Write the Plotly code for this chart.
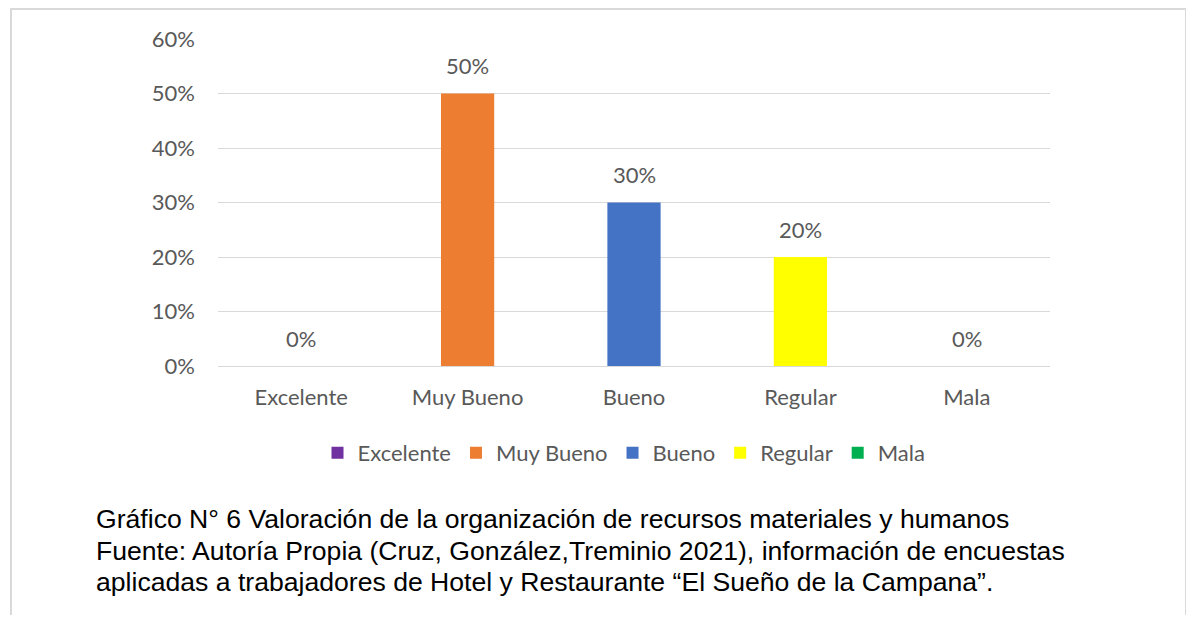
import plotly.graph_objects as go

# survey results (percent of respondents)
categories = ['Excelente', 'Muy Bueno', 'Bueno', 'Regular', 'Mala']
values = [0, 50, 30, 20, 0]
colors = ['#7030A0', '#ED7D31', '#4472C4', '#FFFF00', '#00B050']
y_ticks = [0, 10, 20, 30, 40, 50, 60]
y_tick_text = [f'{v}%' for v in y_ticks]

caption_lines = [
    'Gráfico N° 6 Valoración de la organización de recursos materiales y humanos',
    'Fuente: Autoría Propia (Cruz, González,Treminio 2021), información de encuestas',
    'aplicadas a trabajadores de Hotel y Restaurante “El Sueño de la Campana”.',
]

# page body has an 8px margin, so the figure is a bit smaller and shifted
OFF = 8
W, H = 1194 - OFF, 623 - 2 * OFF
L, R, T = 218 - OFF, 144, 39 - OFF
B = H - (366 - OFF)
pw, ph = W - L - R, H - T - B


def px_x(x):
    return (x - OFF - L) / pw


def px_y(y):
    return (H - B - (y - OFF)) / ph


font_main = 'Lato, Calibri, sans-serif'
grey = '#595959'
fsize = 22

fig = go.Figure()

# one trace per category so each gets its own legend entry
for cat, val, col in zip(categories, values, colors):
    fig.add_trace(go.Bar(x=[cat], y=[val], name=cat, width=0.32,
                         marker=dict(color=col, line=dict(width=0))))

# data labels above the bars
for cat, val in zip(categories, values):
    fig.add_annotation(x=cat, y=val, text=f'{val}%', showarrow=False,
                       yanchor='middle', yshift=28,
                       font=dict(family=font_main, size=fsize, color=grey))

# caption below the chart
for i, line in enumerate(caption_lines):
    fig.add_annotation(xref='paper', yref='paper', x=px_x(94), y=px_y(519 + i * 31.5),
                       xanchor='left', yanchor='middle', text=line, showarrow=False,
                       font=dict(family='Liberation Sans, Arial, sans-serif', size=26.6, color='#000000'))

# light frame around the chart
fig.add_shape(type='rect', xref='paper', yref='paper',
              x0=px_x(11), x1=px_x(1186), y0=px_y(650), y1=px_y(9),
              line=dict(color='#d9d9d9', width=2), layer='below')

fig.update_layout(
    width=W, height=H,
    margin=dict(l=L, r=R, t=T, b=B),
    barmode='overlay',
    plot_bgcolor='white', paper_bgcolor='white',
    font=dict(family=font_main, size=fsize, color=grey),
    showlegend=True,
    legend=dict(orientation='h', x=px_x(624), xanchor='center', y=px_y(453), yanchor='middle',
                font=dict(family=font_main, size=fsize, color=grey), traceorder='normal',
                itemclick=False, bgcolor='rgba(0,0,0,0)'),
)

fig.update_xaxes(categoryorder='array', categoryarray=categories, showgrid=False,
                 showline=False, zeroline=False, ticks='', ticklabelstandoff=16,
                 tickfont=dict(family=font_main, size=fsize, color=grey))
fig.update_yaxes(range=[0, 60], tickvals=y_ticks, ticktext=y_tick_text, showgrid=True,
                 gridcolor='#d9d9d9', gridwidth=1, zeroline=True, zerolinecolor='#d9d9d9',
                 zerolinewidth=1, showline=False, ticks='', ticklabelstandoff=22,
                 tickfont=dict(family=font_main, size=fsize, color=grey))

fig.write_html('out.html')
